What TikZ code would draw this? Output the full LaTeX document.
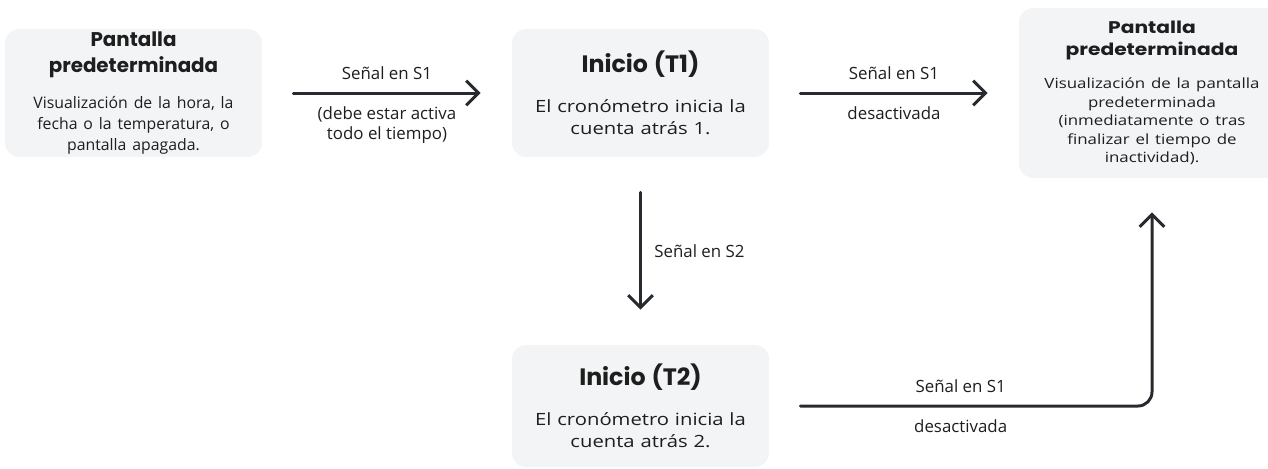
\documentclass[tikz,border=0pt]{standalone}
\usepackage{fontspec}
\setmainfont{Open Sans}
\newfontfamily\headfont{Poppins}
\newfontfamily\widefont[FakeStretch=1.2]{Open Sans}
\newfontfamily\wideheadfont[FakeStretch=1.2]{Poppins}
\usetikzlibrary{arrows.meta}
\definecolor{boxgray}{HTML}{F3F4F6}
\definecolor{inkdark}{HTML}{272B30}
\definecolor{textdark}{HTML}{1E1E1E}

\begin{document}
\begin{tikzpicture}[x=0.02cm, y=-0.02cm,
    statebox/.style={fill=boxgray, rounded corners=8pt, inner sep=0pt, align=center, text=textdark},
    flow/.style={-{Straight Barb[length=7pt, width=14pt]}, line width=1.7pt, draw=inkdark,
      line cap=round, line join=round, shorten <=0.62cm, shorten >=0.62cm},
    sig/.style={font=\fontsize{9.6}{11.4}\selectfont, text=textdark, inner sep=0pt, align=center}]
    \useasboundingbox (0, 0) rectangle (1268, 468);
    \clip (0, 0) rectangle (1268, 468);
    % states
    \node[statebox, minimum width=5.14cm, minimum height=2.56cm, text width=5cm] (dflt) at (133.5, 93)
      {{\headfont\bfseries\fontsize{11.3}{14.8}\selectfont Pantalla\\predeterminada\par}\vspace{8.5pt}%
       {\fontsize{9}{12}\selectfont Visualización de la hora, la\\fecha o la temperatura, o\\pantalla apagada.\par}};
    \node[statebox, minimum width=5.14cm, minimum height=2.56cm, text width=5cm] (t1) at (640.5, 93)
      {{\headfont\bfseries\fontsize{13.5}{16}\selectfont Inicio (T1)\par}\vspace{10.3pt}%
       {\widefont\fontsize{9.6}{12.5}\selectfont El cronómetro inicia la\\cuenta atrás 1.\par}};
    \node[statebox, minimum width=5.32cm, minimum height=3.4cm, text width=5.1cm] (dfltend) at (1152, 93)
      {{\wideheadfont\bfseries\fontsize{9.6}{12.5}\selectfont Pantalla\\predeterminada\par}\vspace{8.3pt}%
       {\widefont\fontsize{8}{10.5}\selectfont Visualización de la pantalla\\predeterminada\\(inmediatamente o tras\\finalizar el tiempo de\\inactividad).\par}};
    \node[statebox, minimum width=5.14cm, minimum height=2.44cm, text width=5cm] (t2) at (640.5, 406)
      {{\headfont\bfseries\fontsize{13.5}{16}\selectfont Inicio (T2)\par}\vspace{10.3pt}%
       {\widefont\fontsize{9.6}{12.5}\selectfont El cronómetro inicia la\\cuenta atrás 2.\par}};
    % transitions
    \draw[flow] (dflt) -- (t1)
      node[midway, above=7pt, sig] (s1a) {Señal en S1}
      node[midway, below=7pt, sig] (s1b) {(debe estar activa\\todo el tiempo)};
    \draw[flow] (t1) -- (dfltend)
      node[midway, above=7pt, sig] (s1c) {Señal en S1}
      node[midway, below=7pt, sig] (s1d) {desactivada};
    \draw[flow, shorten <=0.7cm, shorten >=0.7cm] (t1) -- (t2)
      node[midway, right=7pt, sig] (s2) {Señal en S2};
    \draw[flow, rounded corners=8pt, shorten >=0.68cm] (t2) -| (dfltend)
      node[pos=0.25, above=7pt, sig] (s1e) {Señal en S1}
      node[pos=0.25, below=7pt, sig] (s1f) {desactivada};
  \end{tikzpicture}
\end{document}
